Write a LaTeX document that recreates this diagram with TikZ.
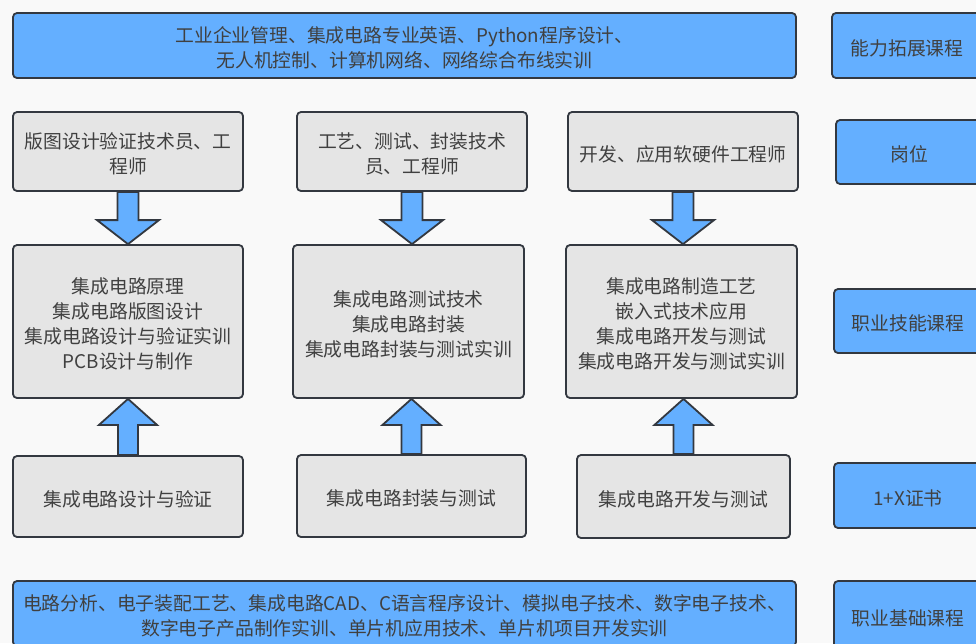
\documentclass[tikz,border=0pt]{standalone}
\usepackage{fontspec}
\setmainfont{Noto Sans CJK SC}
\usetikzlibrary{calc}
\definecolor{bgc}{HTML}{F9F9F9}
\definecolor{bluef}{HTML}{64AFFF}
\definecolor{grayf}{HTML}{E5E5E5}
\definecolor{edgec}{HTML}{333840}
\definecolor{txtc}{HTML}{404040}
\tikzset{
  base/.style={draw=edgec, line width=1.8pt, rounded corners=4pt, inner sep=0pt},
  bluebox/.style={base, fill=bluef},
  graybox/.style={base, fill=grayf},
  boxtext/.style={inner sep=0pt, align=center, text=txtc, font=\fontsize{18.8}{25}\selectfont},
  blkarrow/.style={draw=edgec, line width=1.8pt, fill=bluef, line join=miter},
}
\newcommand\boxat[7]{% name, style, x1, y1, x2, y2, text
  \node[#2, minimum width={#5-#3}, minimum height={#6-#4}] (#1) at ({(#3+#5)/2},{(#4+#6)/2}) {};
  \node[boxtext] (#1-t) at ([yshift=-2.5pt]#1.center) {#7};}
\begin{document}
\begin{tikzpicture}[x=1pt,y=-1pt]
\fill[bgc] (0,0) rectangle (976,643);
\useasboundingbox (0,0) rectangle (976,643);
\clip (0,0) rectangle (976,643);

% top / bottom wide boxes
\boxat{top}{bluebox}{13}{13}{796}{78}{工业企业管理、集成电路专业英语、Python程序设计、\\无人机控制、计算机网络、网络综合布线实训}
\boxat{bot}{bluebox}{13}{581}{796}{646}{电路分析、电子装配工艺、集成电路CAD、C语言程序设计、模拟电子技术、数字电子技术、\\数字电子产品制作实训、单片机应用技术、单片机项目开发实训}

% right labels
\boxat{labA}{bluebox}{832}{13}{982}{78}{能力拓展课程}
\boxat{labB}{bluebox}{836}{120}{982}{184}{岗位}
\boxat{labC}{bluebox}{834}{289}{982}{353}{职业技能课程}
\boxat{labD}{bluebox}{834}{463}{982}{528}{1+X证书}
\boxat{labE}{bluebox}{834}{581}{982}{650}{职业基础课程}

% row of jobs
\boxat{r1}{graybox}{13}{112}{243}{191}{版图设计验证技术员、工\\程师}
\boxat{r2}{graybox}{297}{112}{527}{191}{工艺、测试、封装技术\\员、工程师}
\boxat{r3}{graybox}{568}{112}{798}{191}{开发、应用软硬件工程师}

% skill courses
\boxat{m1}{graybox}{13}{245}{243}{398}{集成电路原理\\集成电路版图设计\\集成电路设计与验证实训\\PCB设计与制作}
\boxat{m2}{graybox}{293}{245}{524}{398}{集成电路测试技术\\集成电路封装\\集成电路封装与测试实训}
\boxat{m3}{graybox}{566}{245}{797}{398}{集成电路制造工艺\\嵌入式技术应用\\集成电路开发与测试\\集成电路开发与测试实训}

% certificates
\boxat{b1}{graybox}{13}{456}{243}{537}{集成电路设计与验证}
\boxat{b2}{graybox}{297}{455}{526}{537}{集成电路封装与测试}
\boxat{b3}{graybox}{577}{455}{790}{538}{集成电路开发与测试}

% down block arrows (jobs -> courses)
\foreach \s/\t in {r1/m1, r2/m2, r3/m3}{
  \draw[blkarrow] let \p1=(\s.south), \p2=(\t.north) in
    (\x1-10.5pt,\y1) -- (\x1+10.5pt,\y1) -- (\x1+10.5pt,\y2+24pt) -- (\x1+31pt,\y2+24pt)
    -- (\x1,\y2) -- (\x1-31pt,\y2+24pt) -- (\x1-10.5pt,\y2+24pt) -- cycle;
}
% up block arrows (certificates -> courses)
\foreach \s/\t in {b1/m1, b2/m2, b3/m3}{
  \draw[blkarrow] let \p1=(\s.north), \p2=(\t.south) in
    (\x1-10pt,\y1) -- (\x1+10pt,\y1) -- (\x1+10pt,\y2-26pt) -- (\x1+29pt,\y2-26pt)
    -- (\x1,\y2) -- (\x1-29pt,\y2-26pt) -- (\x1-10pt,\y2-26pt) -- cycle;
}
\end{tikzpicture}
\end{document}
